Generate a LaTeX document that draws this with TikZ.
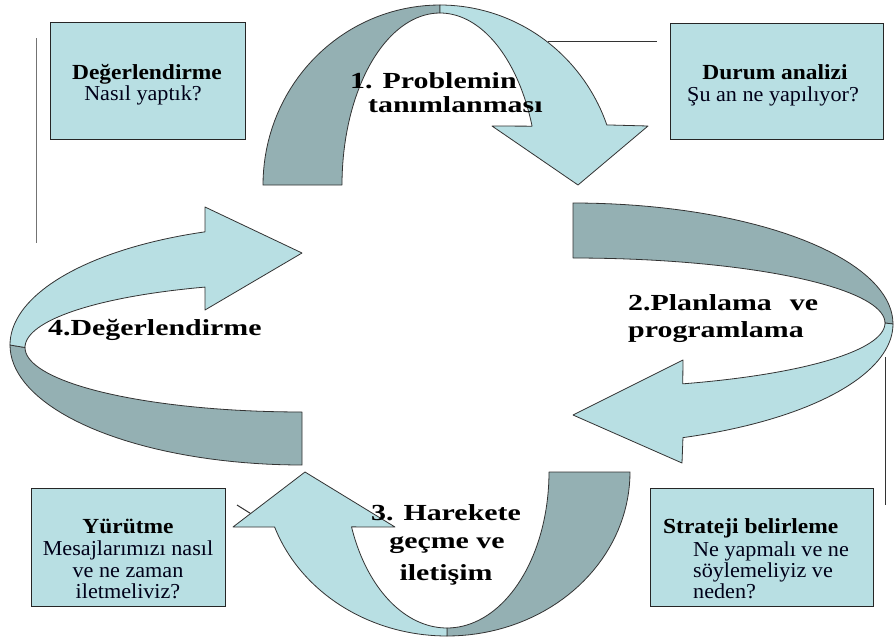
\documentclass[tikz,border=0pt]{standalone}
\usepackage{fontspec}
\setmainfont{Liberation Serif}
\newfontfamily\bigfont{Liberation Serif}[FakeStretch=1.3]
\newfontfamily\titfont{Liberation Serif}[FakeStretch=1.09]
\newfontfamily\regfont{Liberation Serif}[FakeStretch=1.04]
\definecolor{lightteal}{RGB}{184,223,227}
\definecolor{darkteal}{RGB}{148,176,179}
\begin{document}
\begin{tikzpicture}[x=1pt,y=-1pt,
  lightpart/.style={fill=lightteal,draw=black!80,line width=0.8pt,line join=round},
  darkpart/.style={fill=darkteal,draw=black!80,line width=0.8pt,line join=round},
  infobox/.style={fill=lightteal,draw=black!85,line width=1pt},
  strayline/.style={draw=black!80,line width=1pt},
  bigtxt/.style={font=\bigfont\bfseries\fontsize{23}{25}\selectfont,inner sep=0pt,text=black},
  tittxt/.style={font=\titfont\bfseries\fontsize{21.5}{21}\selectfont,inner sep=0pt,text=black},
  regtxt/.style={font=\regfont\fontsize{21.3}{21}\selectfont,inner sep=0pt,text=black!90!blue}
]
\useasboundingbox (0,0) rectangle (895,640);
\fill[white] (0,0) rectangle (895,640);

% stray lines
\coordinate (la1) at (36,38);  \coordinate (la2) at (36,243);
\coordinate (lb1) at (548,41); \coordinate (lb2) at (657,41);
\coordinate (lc1) at (885,357); \coordinate (lc2) at (885,505);
\coordinate (ld1) at (237,505); \coordinate (ld2) at (253,515);
\draw[strayline,draw=black!55] (la1) -- (la2);
\draw[strayline] (lc1) -- (lc2);
\draw[strayline] (ld1) -- (ld2);

% arrow 1 (top)
\path[darkpart] plot[domain=180:270,samples=40] ({440+177*cos(\x)},{185+180*sin(\x)})
  -- plot[domain=270:180,samples=40] ({440+98*cos(\x)},{185+172*sin(\x)}) -- cycle;
\path[lightpart] plot[domain=270:340.5,samples=40] ({440+177*cos(\x)},{185+180*sin(\x)})
  -- (648,126) -- (578,185) -- (492,126)
  -- plot[domain=340:270,samples=40] ({440+98*cos(\x)},{185+172*sin(\x)}) -- cycle;

% arrow 2 (right)
\path[darkpart] plot[domain=270:360,samples=40] ({573+320*cos(\x)},{324+121*sin(\x)})
  -- plot[domain=360:270,samples=40] ({573+312*cos(\x)},{323+65*sin(\x)}) -- cycle;
\path[lightpart] plot[domain=0:69.9,samples=40] ({573+320*cos(\x)},{324+121*sin(\x)})
  -- (682,463) -- (573,415) -- (683,360)
  -- plot[domain=69.4:0,samples=40] ({573+312*cos(\x)},{323+65*sin(\x)}) -- cycle;

% arrow 3 (bottom)
\path[darkpart] plot[domain=0:90,samples=40] ({447+183*cos(\x)},{472+164*sin(\x)})
  -- plot[domain=90:0,samples=40] ({447+102*cos(\x)},{472+156*sin(\x)}) -- cycle;
\path[lightpart] plot[domain=90:160.4,samples=40] ({447+183*cos(\x)},{472+164*sin(\x)})
  -- (233,527) -- (305,472) -- (395,527)
  -- plot[domain=159.4:90,samples=40] ({447+102*cos(\x)},{472+156*sin(\x)}) -- cycle;

% arrow 4 (left)
\path[darkpart] plot[domain=180:90,samples=40] ({302+292*cos(\x)},{345+120*sin(\x)})
  -- plot[domain=90:180,samples=40] ({302+277*cos(\x)},{347.5+64.5*sin(\x)}) -- cycle;
\path[lightpart] plot[domain=180:250.6,samples=40] ({302+292*cos(\x)},{345+120*sin(\x)})
  -- (205,207) -- (302,253) -- (205,310)
  -- plot[domain=249.5:180,samples=40] ({302+277*cos(\x)},{347.5+64.5*sin(\x)}) -- cycle;

\draw[strayline] (lb1) -- (lb2);

% boxes
\node[infobox,minimum width=195pt,minimum height=117pt,anchor=north west,inner sep=0pt] (b1) at (50,22) {};
\node[infobox,minimum width=213pt,minimum height=116pt,anchor=north west,inner sep=0pt] (b2) at (670,23) {};
\node[infobox,minimum width=194pt,minimum height=118pt,anchor=north west,inner sep=0pt] (b3) at (31,488) {};
\node[infobox,minimum width=223pt,minimum height=118pt,anchor=north west,inner sep=0pt] (b4) at (650,488) {};

% box texts
\node[tittxt,anchor=base] (t1a) at (147,79) {Değerlendirme};
\node[regtxt,anchor=base] (t1b) at (143,100) {Nasıl yaptık?};
\node[tittxt,anchor=base] (t2a) at (775,79) {Durum analizi};
\node[regtxt,anchor=base] (t2b) at (773,101) {Şu an ne yapılıyor?};
\node[tittxt,anchor=base] (t3a) at (128,533) {Yürütme};
\node[regtxt,anchor=base] (t3b) at (128,555) {Mesajlarımızı nasıl};
\node[regtxt,anchor=base] (t3c) at (128,577) {ve ne zaman};
\node[regtxt,anchor=base] (t3d) at (128,598) {iletmeliviz?};
\node[tittxt,anchor=base west] (t4a) at (663,533) {Strateji belirleme};
\node[regtxt,anchor=base west] (t4b) at (693,556) {Ne yapmalı ve ne};
\node[regtxt,anchor=base west] (t4c) at (693,577) {söylemeliyiz ve};
\node[regtxt,anchor=base west] (t4d) at (693,598) {neden?};

% big labels
\node[bigtxt,anchor=base west] (s1a) at (350,88) {1.\hspace{10pt}Problemin};
\node[bigtxt,anchor=base west] (s1b) at (368,112) {tanımlanması};
\node[bigtxt,anchor=base west] (s2a) at (628,310) {2.Planlama\hspace{18pt}ve};
\node[bigtxt,anchor=base west] (s2b) at (628,337) {programlama};
\node[bigtxt,anchor=base] (s3a) at (446,520) {3. Harekete};
\node[bigtxt,anchor=base] (s3b) at (447,548) {geçme ve};
\node[bigtxt,anchor=base] (s3c) at (446,580) {iletişim};
\node[bigtxt,anchor=base west] (s4a) at (48,335) {4.Değerlendirme};
\end{tikzpicture}
\end{document}
